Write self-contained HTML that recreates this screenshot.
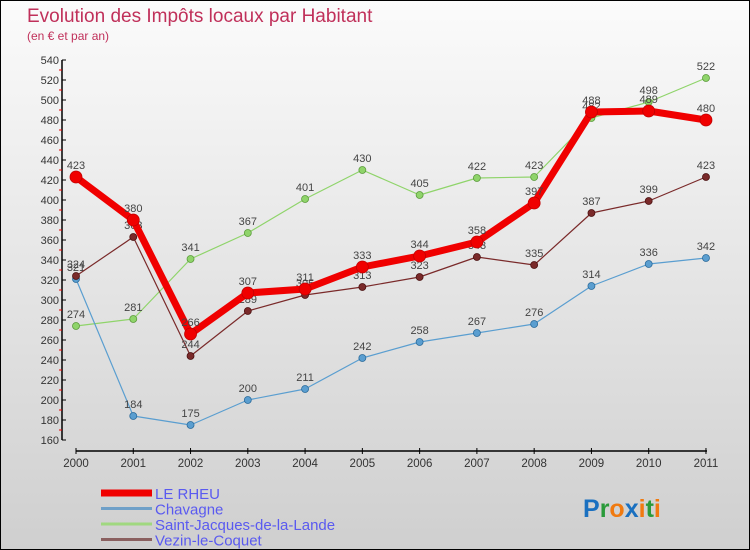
<!DOCTYPE html>
<html><head><meta charset="utf-8"><style>
body{margin:0}
#wrap{width:748px;height:548px;border:1px solid #000;background:linear-gradient(#fbfbfb,#cfcfcf);position:relative;overflow:hidden;font-family:"Liberation Sans",sans-serif}
</style></head><body>
<div id="wrap">
<svg id="c" width="748" height="548"></svg>
</div>
<script>
const years=["2000","2001","2002","2003","2004","2005","2006","2007","2008","2009","2010","2011"];
const rheu=[423,380,266,307,311,333,344,358,397,488,489,480];
const chavagne=[321,184,175,200,211,242,258,267,276,314,336,342];
const stjacques=[274,281,341,367,401,430,405,422,423,482,498,522];
const vezin=[324,363,244,289,305,313,323,343,335,387,399,423];
const yTicks=[160,180,200,220,240,260,280,300,320,340,360,380,400,420,440,460,480,500,520,540];
const NS="http://www.w3.org/2000/svg";
const svg=document.getElementById('c');
function x(i){return 75+i*57.27;}
function y(v){return 439-(v-160)*1.0;}
function mk(t,a,p){const e=document.createElementNS(NS,t);for(const k in a)e.setAttribute(k,a[k]);(p||svg).appendChild(e);return e;}
let t=mk('text',{x:26,y:21,fill:'#c0305a','font-size':19});t.textContent='Evolution des Impôts locaux par Habitant';

t=mk('text',{x:26,y:39,fill:'#c0305a','font-size':12});t.textContent='(en € et par an)';

let ax=mk('line',{x1:61,y1:y(540),x2:61,y2:y(160),stroke:'#000','stroke-width':1.5});

yTicks.forEach(v=>{mk('line',{x1:61,x2:65,y1:y(v),y2:y(v),stroke:'#000'});
 if(v<540)mk('line',{x1:58,x2:61,y1:y(v+10),y2:y(v+10),stroke:'#e00'});
 const l=mk('text',{x:58,y:y(v)+4,'text-anchor':'end','font-size':11,fill:'#333'});l.textContent=v;
 });
ax=mk('line',{x1:75,y1:450,x2:706,y2:450,stroke:'#000','stroke-width':1.5});

years.forEach((yr,i)=>{mk('line',{x1:x(i),x2:x(i),y1:447,y2:453,stroke:'#000'});
 const l=mk('text',{x:x(i),y:466,'text-anchor':'middle','font-size':11.5,fill:'#333'});l.textContent=yr;
 });
function series(d,col,dark,w,r,name){
 const g=mk('g',{});
 mk('polyline',{points:d.map((v,i)=>x(i)+','+y(v)).join(' '),fill:'none',stroke:col,'stroke-width':w,'stroke-linejoin':'round'},g);
 d.forEach((v,i)=>{const c=mk('circle',{cx:x(i),cy:y(v),r:r,fill:col,stroke:dark,'stroke-width':0.8},g);
  
  const l=mk('text',{x:x(i),y:y(v)-8,'text-anchor':'middle','font-size':11,fill:'#444'},g);l.textContent=v;
  });
}
series(stjacques,'#8fd46a','#5a9a3a',1.2,3.5,'saint-jacques');
series(chavagne,'#5a9ed0','#2a6a9a',1.2,3.5,'chavagne');
series(vezin,'#7a2a2a','#4a1010',1.2,3.5,'vezin');
series(rheu,'#f00000','#c00000',7,6,'le-rheu');
const leg=[['LE RHEU','#f00000',7],['Chavagne','#6fa0c8',3],['Saint-Jacques-de-la-Lande','#a0d880',3],['Vezin-le-Coquet','#8a6060',3]];
leg.forEach((L,i)=>{const g=mk('g',{});
 const yy=492+i*15.5;mk('line',{x1:100,x2:151,y1:yy,y2:yy,stroke:L[1],'stroke-width':L[2]},g);
 const l=mk('text',{x:154,y:yy+6,'font-size':15,fill:'#5a5af0'},g);l.textContent=L[0];});
const p=mk('text',{x:582,y:516,'font-size':25,'font-weight':'bold'});

[['P','#1a70c0'],['r','#2a9a3a'],['o','#f07a10'],['x','#1a70c0'],['i','#f07a10'],['t','#2a9a3a'],['i','#f07a10']].forEach(a=>{const s=mk('tspan',{fill:a[1]},p);s.textContent=a[0];});
</script>
</body></html>
